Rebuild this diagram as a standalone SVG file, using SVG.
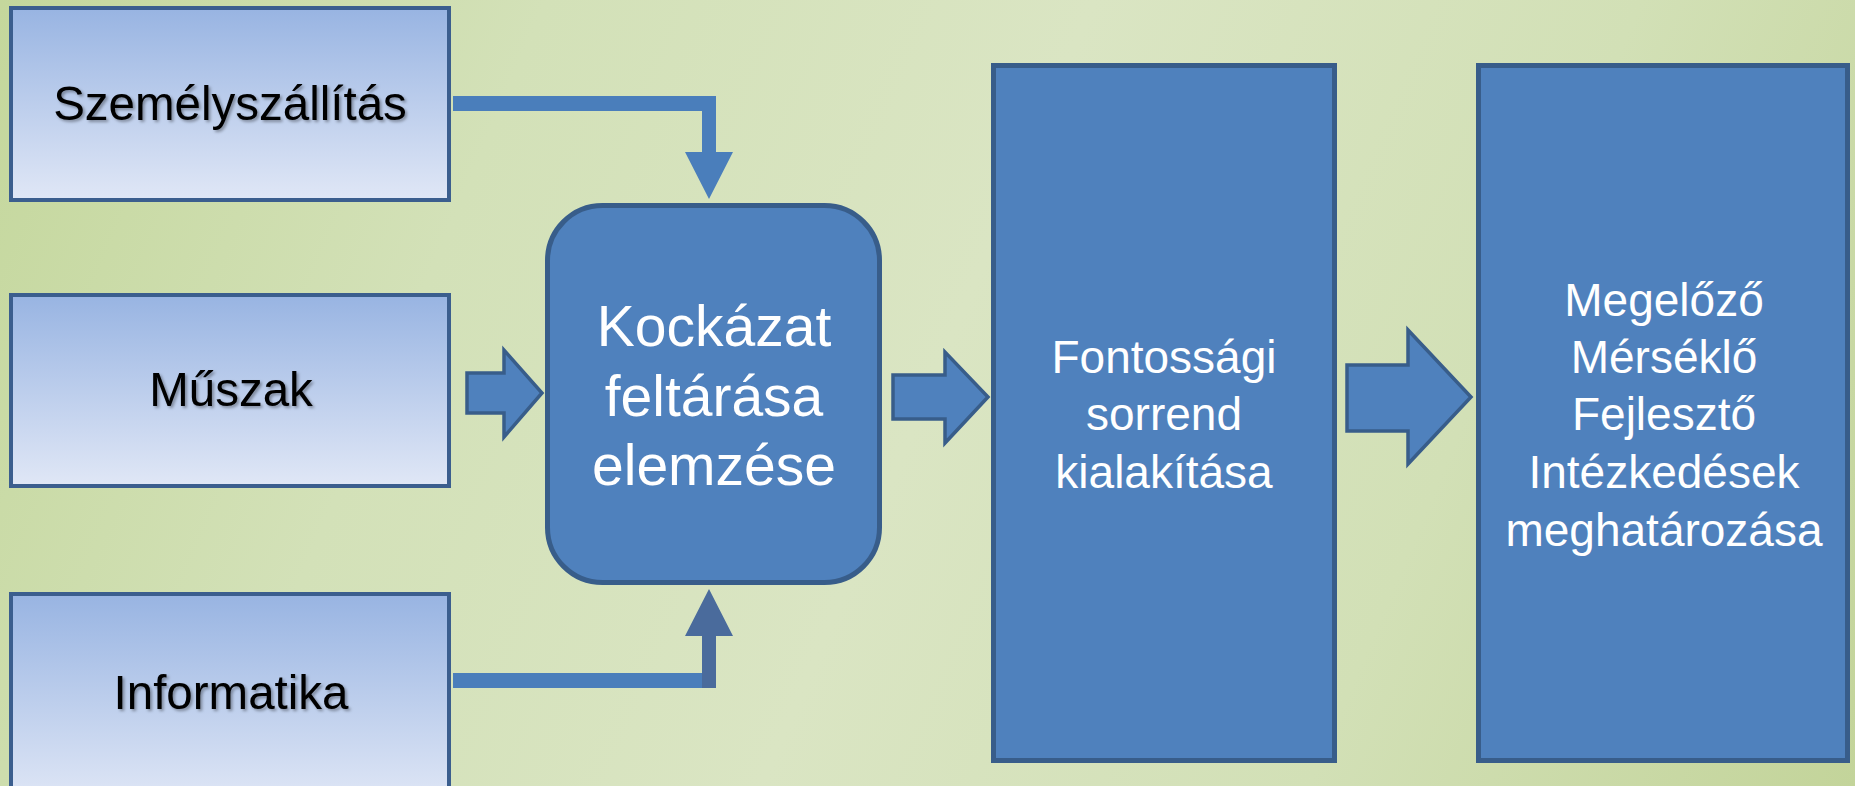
<svg xmlns="http://www.w3.org/2000/svg" width="1855" height="786" viewBox="0 0 1855 786">
<defs>
<linearGradient id="bg" x1="0" y1="0" x2="1855" y2="786" gradientUnits="userSpaceOnUse">
<stop offset="0" stop-color="#c4d79c"/>
<stop offset="0.25" stop-color="#d3e1b8"/>
<stop offset="0.5" stop-color="#dae5c3"/>
<stop offset="0.75" stop-color="#d2e0b6"/>
<stop offset="1" stop-color="#c3d49a"/>
</linearGradient>
<linearGradient id="lite" x1="0" y1="0" x2="0" y2="1">
<stop offset="0" stop-color="#98b4e2"/>
<stop offset="1" stop-color="#e0e7f6"/>
</linearGradient>
<filter id="tsh" x="-10%" y="-30%" width="120%" height="160%">
<feDropShadow dx="2" dy="2" stdDeviation="1.5" flood-color="#000" flood-opacity="0.35"/>
</filter>
<style>
.lite{fill:url(#lite);stroke:#3b5e8e;stroke-width:4}
.blue{fill:#4f81bd;stroke:#385d8a;stroke-width:5}
.barr{fill:#4f81bd;stroke:#385d8a;stroke-width:3.5}
.dark{font-family:"Liberation Sans",Arial,sans-serif;font-size:47.5px;fill:#000;text-anchor:middle;filter:url(#tsh)}
.wt{font-family:"Liberation Sans",Arial,sans-serif;font-size:46px;fill:#fff;text-anchor:middle}
.wt57{font-family:"Liberation Sans",Arial,sans-serif;font-size:57px;fill:#fff;text-anchor:middle}
</style>
</defs>
<rect x="0" y="0" width="1855" height="786" fill="url(#bg)"/>

<g id="connectors">
<path d="M453,96 H716 V152 H733 L709,199 L685,152 H702 V111 H453 Z" fill="#4a7ebb"/>
<rect x="453" y="673" width="263" height="15" fill="#4a7ebb"/>
<path d="M702,688 V636 H685 L709,589 L733,636 H716 V688 Z" fill="#4a6b9c"/>
<polygon class="barr" points="467,373 504,373 504,350 542,393 504,437 504,413 467,413"/>
<polygon class="barr" points="893,375 945,375 945,352 988,397 945,443 945,419 893,419"/>
<polygon class="barr" points="1347,365 1408,365 1408,330 1471,397 1408,464 1408,431 1347,431"/>
</g>

<g id="szemelyszallitas">
<rect class="lite" x="11" y="8" width="438" height="192"/>
<text class="dark" x="230" y="120">Személyszállítás</text>
</g>
<g id="muszak">
<rect class="lite" x="11" y="295" width="438" height="191"/>
<text class="dark" x="231" y="406">Műszak</text>
</g>
<g id="informatika">
<rect class="lite" x="11" y="594" width="438" height="210"/>
<text class="dark" x="231" y="709">Informatika</text>
</g>
<g id="kockazat">
<rect class="blue" x="547.5" y="205.5" width="332" height="377" rx="55" ry="55"/>
<text class="wt57" x="714" y="346">Kockázat</text>
<text class="wt57" x="714" y="416">feltárása</text>
<text class="wt57" x="714" y="485">elemzése</text>
</g>
<g id="fontossagi">
<rect class="blue" x="993.5" y="65.5" width="341" height="695"/>
<text class="wt" x="1164" y="373">Fontossági</text>
<text class="wt" x="1164" y="430">sorrend</text>
<text class="wt" x="1164" y="488">kialakítása</text>
</g>
<g id="intezkedesek">
<rect class="blue" x="1478.5" y="65.5" width="369" height="695"/>
<text class="wt" x="1664" y="316">Megelőző</text>
<text class="wt" x="1664" y="373">Mérséklő</text>
<text class="wt" x="1664" y="430">Fejlesztő</text>
<text class="wt" x="1664" y="488">Intézkedések</text>
<text class="wt" x="1664" y="546">meghatározása</text>
</g>
</svg>
